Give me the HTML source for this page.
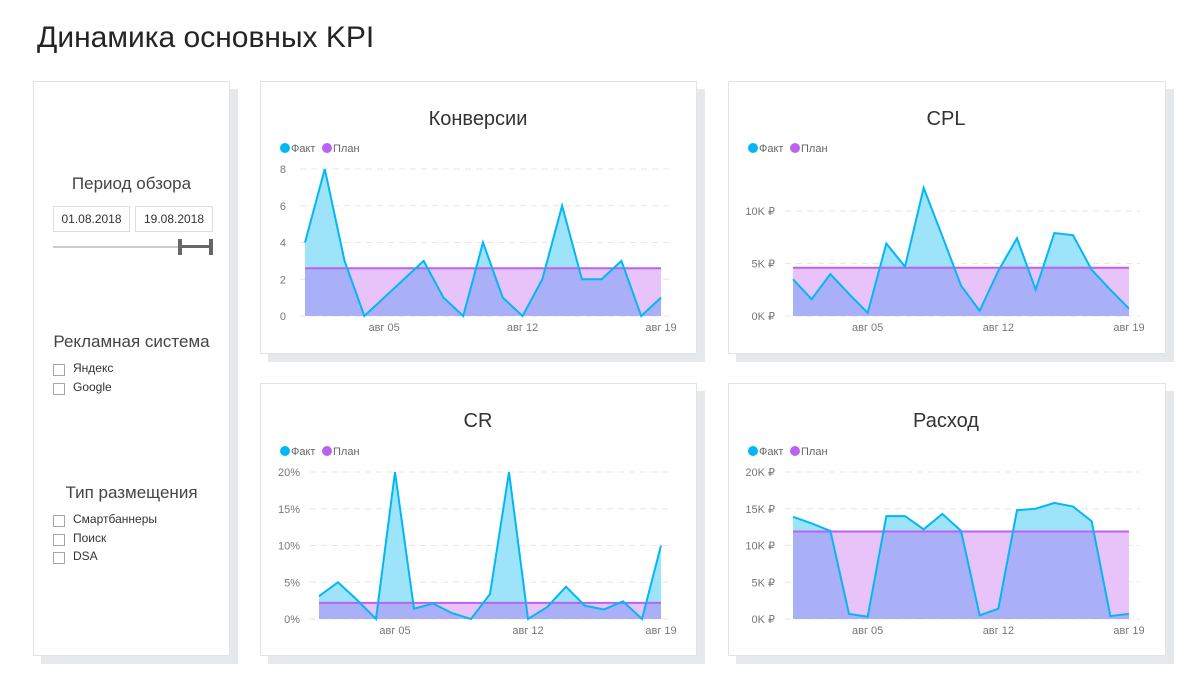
<!DOCTYPE html>
<html><head><meta charset="utf-8"><style>
body{margin:0;width:1200px;height:689px;background:#fff;font-family:"Segoe UI","Liberation Sans","DejaVu Sans",sans-serif;position:relative;overflow:hidden;color:#333}
.abs{position:absolute}
.card{position:absolute;background:#fff;border:1px solid #e3e3e3;box-shadow:8px 8px 0 #e6e9ec}
.t{position:absolute;white-space:nowrap}
.cb{position:absolute;width:10px;height:10px;border:1px solid #a6a6a6;background:#fff}
</style></head><body>
<div class="t" style="left:37px;top:21px;font-size:30px;color:#252423">Динамика основных KPI</div>

<div class="card" style="left:33px;top:81px;width:195px;height:573px">
  <div class="t" style="left:0;width:195px;text-align:center;top:92px;font-size:17px;color:#444">Период обзора</div>
  <div class="abs" style="left:19px;top:124px;width:75px;height:24px;border:1px solid #ddd;font-size:12px;line-height:24px;text-align:center">01.08.2018</div>
  <div class="abs" style="left:101px;top:124px;width:76px;height:24px;border:1px solid #ddd;font-size:12px;line-height:24px;text-align:center">19.08.2018</div>
  <div class="abs" style="left:19px;top:164px;width:158px;height:2px;background:#ccc"></div>
  <div class="abs" style="left:146px;top:163px;width:31px;height:3px;background:#666"></div>
  <div class="abs" style="left:144px;top:157px;width:4px;height:16px;background:#666"></div>
  <div class="abs" style="left:175px;top:157px;width:4px;height:16px;background:#666"></div>
  <div class="t" style="left:0;width:195px;text-align:center;top:250px;font-size:17px;color:#444">Рекламная система</div>
  <div class="cb" style="left:19px;top:282px"></div>
  <div class="t" style="left:39px;top:279px;font-size:12px">Яндекс</div>
  <div class="cb" style="left:19px;top:301px"></div>
  <div class="t" style="left:39px;top:298px;font-size:12px">Google</div>
  <div class="t" style="left:0;width:195px;text-align:center;top:401px;font-size:17px;color:#444">Тип размещения</div>
  <div class="cb" style="left:19px;top:433px"></div>
  <div class="t" style="left:39px;top:430px;font-size:12px">Смартбаннеры</div>
  <div class="cb" style="left:19px;top:452px"></div>
  <div class="t" style="left:39px;top:449px;font-size:12px">Поиск</div>
  <div class="cb" style="left:19px;top:470px"></div>
  <div class="t" style="left:39px;top:467px;font-size:12px">DSA</div>
</div>

<div class="card" style="left:260px;top:81px;width:435px;height:271px"></div>
<div class="card" style="left:728px;top:81px;width:436px;height:271px"></div>
<div class="card" style="left:260px;top:383px;width:435px;height:271px"></div>
<div class="card" style="left:728px;top:383px;width:436px;height:271px"></div>

<svg id="svg" class="abs" style="left:0;top:0" width="1200" height="689"></svg>

<script>
const days = ["01","02","03","04","05","06","07","08","09","10","11","12","13","14","15","16","17","18","19"];
const xTickIdx = [4, 11, 18];
const xTickLabels = ["авг 05", "авг 12", "авг 19"];
const convFact = [4,8,3,0,1,2,3,1,0,4,1,0,2,6,2,2,3,0,1];
const convPlan = 2.6;
const convTicks = [0,2,4,6,8];
const convTickLabels = ["0","2","4","6","8"];
const cplFact = [3.5,1.6,4.0,2.1,0.3,6.9,4.7,12.2,7.6,2.9,0.5,4.3,7.4,2.5,7.9,7.7,4.4,2.5,0.7];
const cplPlan = 4.6;
const cplTicks = [0,5,10];
const cplTickLabels = ["0K ₽","5K ₽","10K ₽"];
const crFact = [3.1,5.0,2.6,0,20,1.4,2.1,0.8,0,3.4,20,0,1.6,4.4,1.8,1.3,2.4,0,10];
const crPlan = 2.2;
const crTicks = [0,5,10,15,20];
const crTickLabels = ["0%","5%","10%","15%","20%"];
const spendFact = [13.9,13.0,12.0,0.7,0.3,14.0,14.0,12.2,14.3,12.0,0.5,1.4,14.8,15.0,15.8,15.3,13.3,0.4,0.7];
const spendPlan = 11.9;
const spendTicks = [0,5,10,15,20];
const spendTickLabels = ["0K ₽","5K ₽","10K ₽","15K ₽","20K ₽"];

const NS="http://www.w3.org/2000/svg";
const svg=document.getElementById('svg');
function mk(tag,attrs,parent){const e=document.createElementNS(NS,tag);for(const k in attrs)e.setAttribute(k,attrs[k]);(parent||svg).appendChild(e);return e;}

function chart(cfg){
  const g=mk('g',{});
  
  
  const xs=i=>cfg.x0+(cfg.x1-cfg.x0)*i/(days.length-1);
  const ys=v=>cfg.y0-(v/cfg.vmax)*(cfg.y0-cfg.yTop);
  const t=mk('text',{x:cfg.cx,y:cfg.titleY,'text-anchor':'middle','font-size':20,fill:'#333'},g);
  t.textContent=cfg.title;
  
  
  const lx=cfg.legX, ly=cfg.legY;
  const c1=mk('circle',{cx:lx+5,cy:ly,r:5,fill:'#01B8F5'},g);
  
  
  const l1=mk('text',{x:lx+11,y:ly+4,'font-size':11,fill:'#666'},g);l1.textContent='Факт';
  
  
  const c2=mk('circle',{cx:lx+47,cy:ly,r:5,fill:'#B963F0'},g);
  
  
  const l2=mk('text',{x:lx+53,y:ly+4,'font-size':11,fill:'#666'},g);l2.textContent='План';
  
  
  cfg.ticks.forEach((v,i)=>{
    const gl=mk('line',{x1:cfg.gridX0,x2:cfg.gridX1,y1:ys(v),y2:ys(v),stroke:'#e6e6e6','stroke-dasharray':'6,5'},g);
    
    
    const tl=mk('text',{x:cfg.labX,y:ys(v)+4,'text-anchor':'end','font-size':11,fill:'#777'},g);
    tl.textContent=cfg.tickLabels[i];
    
    
  });
  xTickIdx.forEach((idx,i)=>{
    const tl=mk('text',{x:xs(idx),y:cfg.y0+15,'text-anchor':'middle','font-size':11,fill:'#777'},g);
    tl.textContent=xTickLabels[i];
    
    
  });
  const X0=xs(0),X1=xs(days.length-1),Y0=ys(0),PY=ys(cfg.plan);
  const pts=cfg.fact.map((v,i)=>xs(i)+','+ys(v)).join(' ');
  const areaPts=X0+','+Y0+' '+pts+' '+X1+','+Y0;
  const pr=mk('rect',{x:X0,y:PY,width:X1-X0,height:Y0-PY,fill:'#E8C3F9'},g);
  
  
  const fa=mk('polygon',{points:areaPts,fill:'#9DE3FA'},g);
  
  
  const cp=mk('clipPath',{id:'clip'+cfg.name},g);
  mk('polygon',{points:areaPts},cp);
  const ov=mk('rect',{x:X0,y:PY,width:X1-X0,height:Y0-PY,fill:'#A9B0F8','clip-path':'url(#clip'+cfg.name+')'},g);
  
  
  const pl=mk('line',{x1:X0,x2:X1,y1:PY,y2:PY,stroke:'#B963F0','stroke-width':2},g);
  
  
  const fl=mk('polyline',{points:pts,fill:'none',stroke:'#01B8F5','stroke-width':2,'stroke-linejoin':'miter'},g);
  
  
}

chart({name:'conversions-chart',title:'Конверсии',cx:478,titleY:125,legX:280,legY:148,x0:305,x1:661,y0:316,yTop:169,vmax:8,ticks:convTicks,tickLabels:convTickLabels,fact:convFact,plan:convPlan,gridX0:300,gridX1:670,labX:286});
chart({name:'cpl-chart',title:'CPL',cx:946,titleY:125,legX:748,legY:148,x0:793,x1:1129,y0:316,yTop:211,vmax:10,ticks:cplTicks,tickLabels:cplTickLabels,fact:cplFact,plan:cplPlan,gridX0:785,gridX1:1140,labX:775});
chart({name:'cr-chart',title:'CR',cx:478,titleY:427,legX:280,legY:451,x0:319,x1:661,y0:619,yTop:472,vmax:20,ticks:crTicks,tickLabels:crTickLabels,fact:crFact,plan:crPlan,gridX0:310,gridX1:670,labX:300});
chart({name:'spend-chart',title:'Расход',cx:946,titleY:427,legX:748,legY:451,x0:793,x1:1129,y0:619,yTop:472,vmax:20,ticks:spendTicks,tickLabels:spendTickLabels,fact:spendFact,plan:spendPlan,gridX0:785,gridX1:1140,labX:775});
</script>
</body></html>
